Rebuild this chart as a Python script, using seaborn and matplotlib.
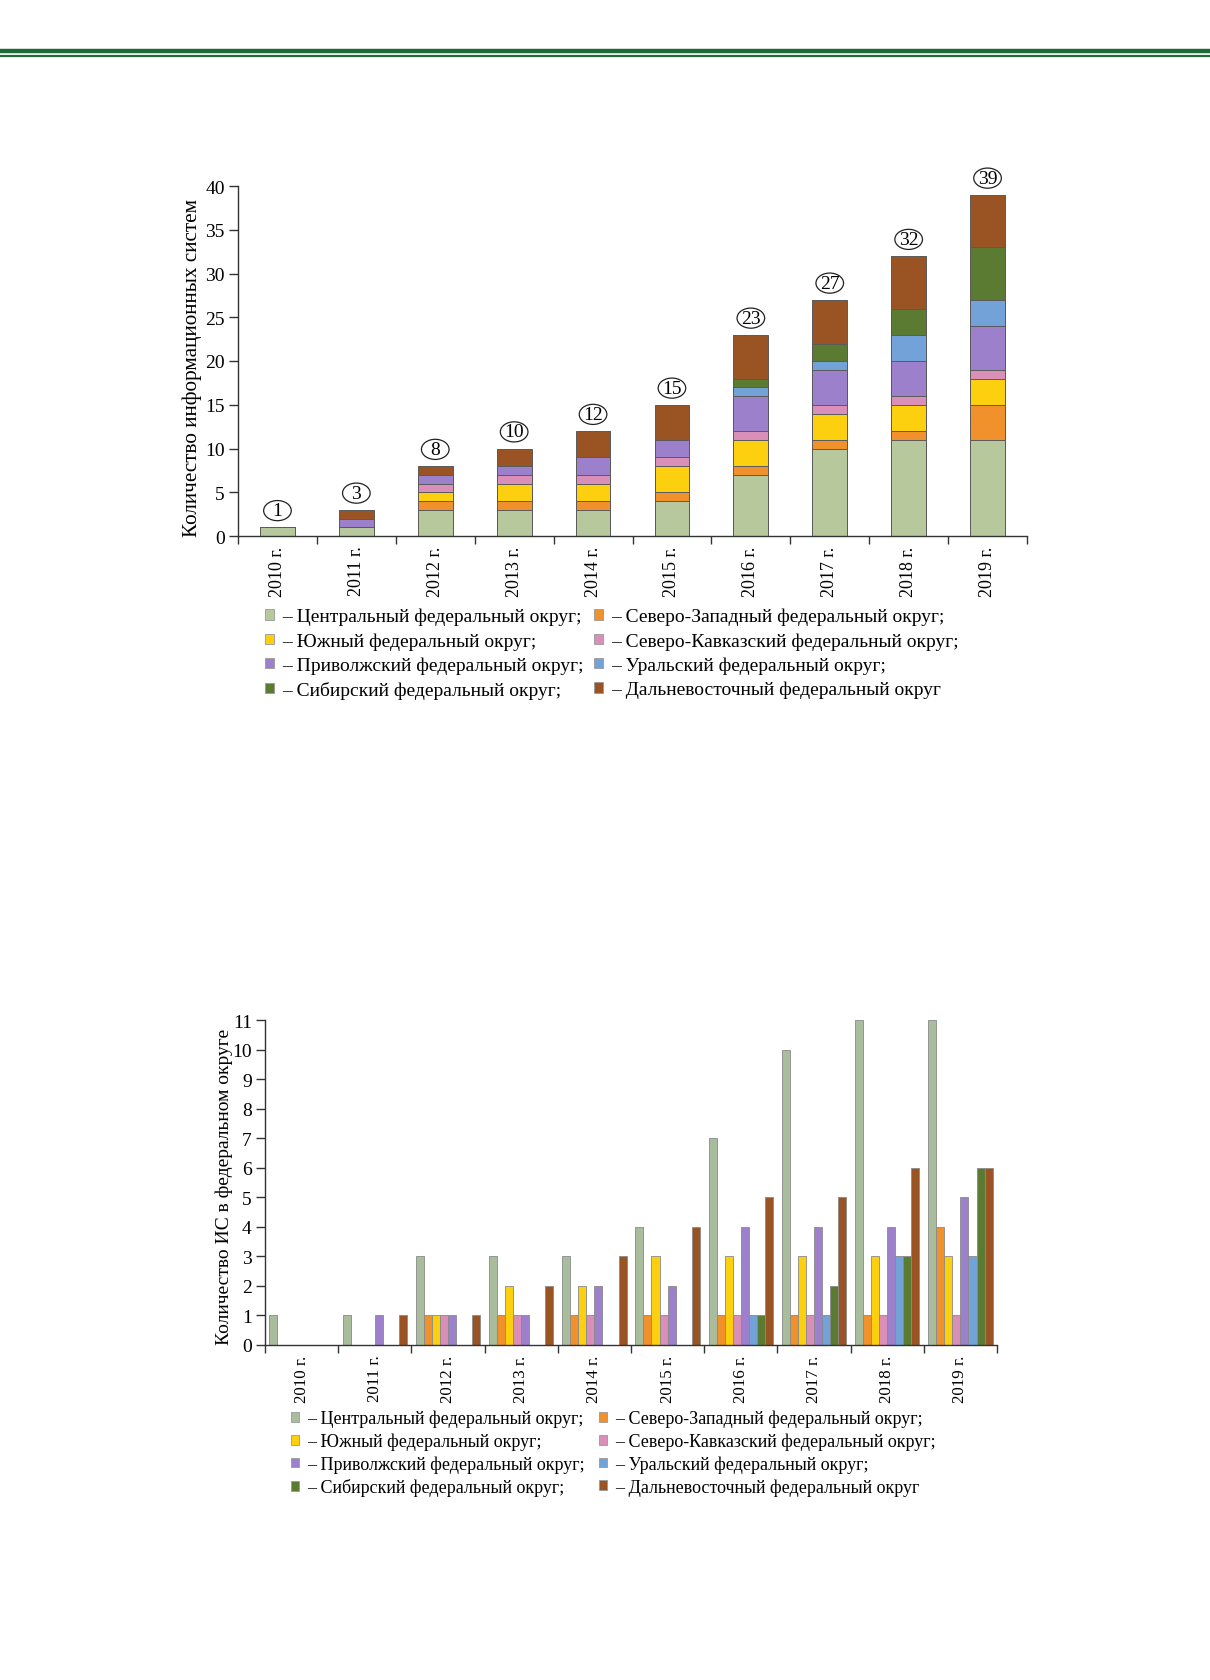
import numpy as np
import pandas as pd
import matplotlib
matplotlib.use('Agg')
import matplotlib.pyplot as plt
import matplotlib.patches as mpatches
from matplotlib.lines import Line2D
import seaborn as sns

##################################################################
years = ['2010 г.', '2011 г.', '2012 г.', '2013 г.', '2014 г.',
         '2015 г.', '2016 г.', '2017 г.', '2018 г.', '2019 г.']
districts = ['Центральный федеральный округ',
             'Северо-Западный федеральный округ',
             'Южный федеральный округ',
             'Северо-Кавказский федеральный округ',
             'Приволжский федеральный округ',
             'Уральский федеральный округ',
             'Сибирский федеральный округ',
             'Дальневосточный федеральный округ']
central   = [1, 1, 3, 3, 3, 4, 7, 10, 11, 11]
northwest = [0, 0, 1, 1, 1, 1, 1, 1, 1, 4]
south     = [0, 0, 1, 2, 2, 3, 3, 3, 3, 3]
ncaucasus = [0, 0, 1, 1, 1, 1, 1, 1, 1, 1]
volga     = [0, 1, 1, 1, 2, 2, 4, 4, 4, 5]
ural      = [0, 0, 0, 0, 0, 0, 1, 1, 3, 3]
siberia   = [0, 0, 0, 0, 0, 0, 1, 2, 3, 6]
fareast   = [0, 1, 1, 2, 3, 4, 5, 5, 6, 6]
yticks1 = [0, 5, 10, 15, 20, 25, 30, 35, 40]
yticks2 = list(range(0, 12))

colors = ['#b7c99c', '#f0912c', '#fdd00f', '#d98fb8',
          '#9c80cc', '#72a2d8', '#5b7a32', '#9a5424']
colors2 = ['#a9bd9c', '#f0912c', '#fdd00f', '#d98fb8',
           '#9c80cc', '#72a2d8', '#5b7a32', '#9a5424']
##################################################################
series = [central, northwest, south, ncaucasus, volga, ural, siberia, fareast]
df = pd.DataFrame({'year': years * len(districts),
                   'district': np.repeat(districts, len(years)),
                   'count': np.concatenate(series)})
wide = pd.DataFrame(dict(zip(districts, series)), index=years)
cum = wide.cumsum(axis=1)
totals = wide.sum(axis=1)

plt.rcParams['font.family'] = ['Liberation Serif', 'DejaVu Serif']
W, H = 1210, 1681
fig = plt.figure(figsize=(W / 100, H / 100), dpi=100)
fig.patch.set_facecolor('white')

def fx(px): return px / W
def fy(py): return 1 - py / H

# header lines
fig.add_artist(Line2D([0, 1], [fy(52), fy(52)], color='#1d6b3b', lw=3.2))
fig.add_artist(Line2D([0, 1], [fy(57), fy(57)], color='#1d6b3b', lw=1.6))

ax1 = fig.add_axes([fx(238), fy(537), fx(1027) - fx(238), fy(187) - fy(537)])
ax2 = fig.add_axes([fx(265), fy(1346), fx(997) - fx(265), fy(1021) - fy(1346)])

#### stacked chart
for k in range(len(districts) - 1, -1, -1):
    d = pd.DataFrame({'year': years, 'val': cum[districts[k]].values})
    sns.barplot(data=d, x='year', y='val', ax=ax1, color=colors[k],
                saturation=1, width=0.44, edgecolor='#5a5a5a', linewidth=0.7)

for i, y in enumerate(years):
    t = totals[y]
    ax1.add_patch(mpatches.Ellipse((i, t + 1.9), 0.35, 2.3, fill=False,
                                   edgecolor='#222222', lw=0.9, clip_on=False))
    ax1.text(i, t + 1.9, str(t), ha='center', va='center', fontsize=14)

#### grouped chart
sns.barplot(data=df, x='year', y='count', hue='district', ax=ax2,
            palette=colors2, saturation=1, width=0.88, edgecolor='#8a8a8a',
            linewidth=0.6, legend=False)

for ax, ylim, yt, fz_lab, fz_x, lab in [
        (ax1, 40, yticks1, 15.3, 13, 'Количество информационных систем'),
        (ax2, 11, yticks2, 14, 12.2, 'Количество ИС в федеральном округе')]:
    ax.set_xlim(-0.5, len(years) - 0.5)
    ax.set_ylim(0, ylim)
    ax.set_yticks(yt)
    ax.set_yticklabels([str(v) for v in yt], fontsize=14)
    ax.set_xticks(np.arange(len(years) + 1) - 0.5)
    ax.set_xticklabels([])
    ax.set_xticks(np.arange(len(years)), minor=True)
    ax.set_xticklabels(years, minor=True, rotation=90, fontsize=fz_x,
                       va='top', ha='center')
    ax.tick_params(axis='x', which='minor', length=0, pad=7)
    ax.tick_params(axis='x', which='major', length=6, width=1, color='#333333')
    ax.tick_params(axis='y', length=6.5, width=1, pad=3, color='#333333')
    ax.set_xlabel('')
    ax.set_ylabel(lab, fontsize=fz_lab)
    for s in ['top', 'right']:
        ax.spines[s].set_visible(False)
    for s in ['left', 'bottom']:
        ax.spines[s].set_color('#333333')
        ax.spines[s].set_linewidth(1)
    ax.set_facecolor('white')

ax1.yaxis.set_label_coords(-0.046, 0.483)
ax2.yaxis.set_label_coords(-0.044, 0.49)

#### legends: two columns each, row-major order
labels_leg = ['– ' + d + (';' if i < 7 else '') for i, d in enumerate(districts)]
legend_cfg = [
    # colours, fontsize, row spacing, top, x col1, x col2
    (colors, 14.0, 0.35, 609, 265, 594),
    (colors2, 13.0, 0.29, 1411, 291, 599),
]
for cols, fz, ls, top, xa, xb in legend_cfg:
    for col_idx, x0 in [(0, xa), (1, xb)]:
        idx = [col_idx, col_idx + 2, col_idx + 4, col_idx + 6]
        handles = [mpatches.Patch(facecolor=cols[i], edgecolor='#999999', lw=0.6)
                   for i in idx]
        leg = fig.legend(handles, [labels_leg[i] for i in idx], ncol=1,
                         loc='upper left', bbox_to_anchor=(fx(x0), fy(top)),
                         frameon=False, fontsize=fz, handlelength=0.44,
                         handleheight=0.44, handletextpad=0.45,
                         labelspacing=ls, borderpad=0, borderaxespad=0)

fig.savefig('out.png', dpi=100, facecolor='white')
